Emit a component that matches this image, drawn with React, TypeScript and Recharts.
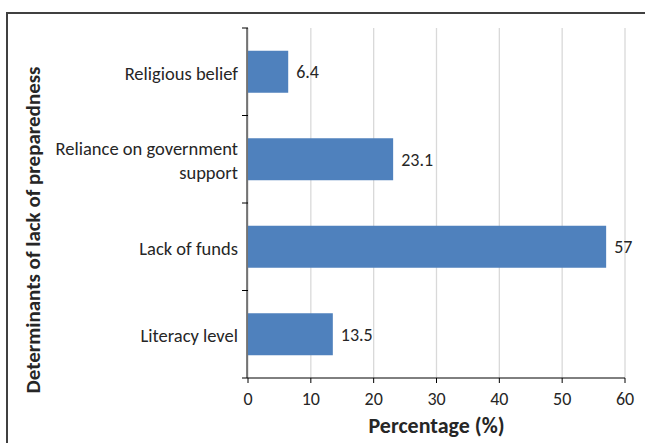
import { Bar, BarChart, CartesianGrid, LabelList, XAxis, YAxis } from "recharts";

const categories = [
  "Religious belief",
  "Reliance on government support",
  "Lack of funds",
  "Literacy level",
];
const percentages = [6.4, 23.1, 57, 13.5];
const xTicks = [0, 10, 20, 30, 40, 50, 60];

const data = categories.map((name, i) => ({ name, value: percentages[i] }));

// the helper axis below runs over the row indexes 0..n-1, so the borders
// between the n rows sit at multiples of (n-1)/n
const n = categories.length;
const bandEdges = Array.from({ length: n + 1 }, (_, i) => (i * (n - 1)) / n);

const FONT = "Carlito, 'Open Sans', 'Noto Sans', sans-serif";
const TEXT = "#262626";
const BLUE = "#4F81BD";

// wraps long category names onto two lines, like the original
function CategoryTick({ x, y, payload }: any) {
  const words = String(payload.value).split(" ");
  const lines: string[] = [];
  let cur = "";
  for (const w of words) {
    const next = cur ? cur + " " + w : w;
    if (next.length > 24 && cur) {
      lines.push(cur);
      cur = w;
    } else cur = next;
  }
  lines.push(cur);
  const lh = 24;
  const start = -((lines.length - 1) * lh) / 2;
  return (
    <text x={x - 1} y={y + 8} textAnchor="end" fontFamily={FONT} fontSize={18.5} fill={TEXT}>
      {lines.map((l, i) => (
        <tspan key={i} x={x - 1} dy={i === 0 ? start : lh}>
          {l}
        </tspan>
      ))}
    </text>
  );
}

function YTitle({ viewBox }: any) {
  const cx = 33;
  const cy = viewBox.y + viewBox.height / 2 + 27;
  return (
    <text
      x={cx}
      y={cy}
      transform={`rotate(-90 ${cx} ${cy})`}
      textAnchor="middle"
      dominantBaseline="central"
      fontFamily={FONT}
      fontSize={21}
      fontWeight={700}
      fill={TEXT}
    >
      Determinants of lack of preparedness
    </text>
  );
}

export default function App() {
  return (
    <div
      style={{
        position: "fixed",
        left: 0,
        top: 0,
        width: 645,
        height: 443,
        overflow: "hidden",
        background: "#fff",
      }}
    >
      <div
        style={{
          position: "absolute",
          left: 6,
          top: 12,
          width: 700,
          height: 500,
          border: "2px solid #404040",
        }}
      />
      <div style={{ position: "absolute", left: 0, top: 0 }}>
        <BarChart
          width={645}
          height={443}
          data={data}
          layout="vertical"
          barCategoryGap="26%"
          margin={{ top: 28, right: 20, left: 0, bottom: 0 }}
        >
          <CartesianGrid horizontal={false} yAxisId={1} stroke="#D9D9D9" strokeWidth={1.3} />
          <XAxis
            type="number"
            domain={[0, 60]}
            ticks={xTicks}
            height={65}
            tickSize={5}
            tickMargin={9}
            stroke="#000"
            tick={{ fontFamily: FONT, fontSize: 18, fill: TEXT }}
            label={{
              value: "Percentage (%)",
              position: "insideBottom",
              offset: 10,
              style: { fontFamily: FONT, fontSize: 22, fontWeight: 700, fill: TEXT },
            }}
          />
          {/* invisible axis that only draws the tick marks between categories;
              id 0 keeps it next to the plot */}
          <YAxis
            yAxisId={0}
            type="number"
            domain={[0, n - 1]}
            ticks={bandEdges}
            interval={0}
            width={1}
            tick={() => <g />}
            tickSize={6}
            tickLine={{ stroke: "#000" }}
            axisLine={false}
          />
          <YAxis
            yAxisId={1}
            type="category"
            dataKey="name"
            width={247}
            stroke="#000"
            tickLine={false}
            tick={<CategoryTick />}
            label={<YTitle />}
          />
          <Bar dataKey="value" yAxisId={1} fill={BLUE} isAnimationActive={false}>
            <LabelList
              dataKey="value"
              position="right"
              offset={8}
              style={{ fontFamily: FONT, fontSize: 18, fill: TEXT }}
            />
          </Bar>
        </BarChart>
      </div>
    </div>
  );
}
